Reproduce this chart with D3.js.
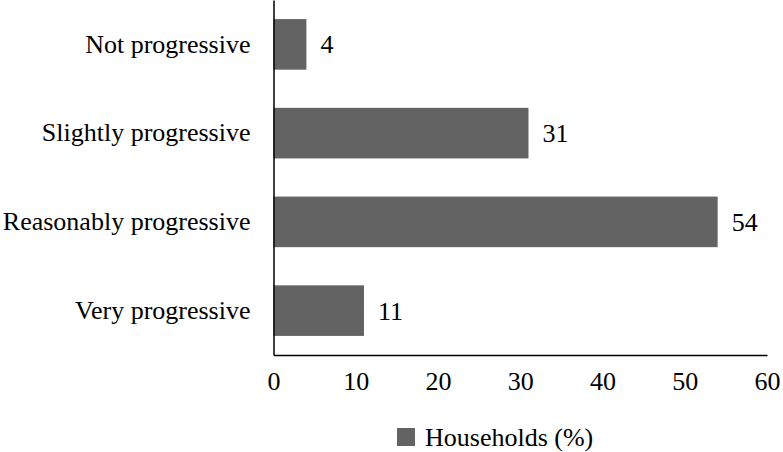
<!DOCTYPE html>
<html><head><meta charset="utf-8">
<script src="https://cdn.jsdelivr.net/npm/d3@7"></script>
<style>body{margin:0;background:#fff}svg{display:block}text{font-family:"Liberation Serif","Times New Roman",serif;fill:#000}</style>
</head><body>
<script>
const categories = ["Not progressive","Slightly progressive","Reasonably progressive","Very progressive"];
const values = [4,31,54,11];
const xTicks = [0,10,20,30,40,50,60];
const seriesName = "Households (%)";

const W=783,H=452, fs=26;
const svg=d3.select("body").append("svg").attr("width",W).attr("height",H);
const x=d3.scaleLinear().domain([0,60]).range([273.5,767]);
const y=d3.scaleBand().domain(categories).range([0,355]).paddingInner(0.43).paddingOuter(0.215);
const col="#636363";

svg.selectAll("rect.bar").data(values).join("rect").attr("class","bar")
  .attr("x",x(0)).attr("y",(d,i)=>y(categories[i])).attr("width",d=>x(d)-x(0)).attr("height",y.bandwidth()).attr("fill",col);

svg.selectAll("text.val").data(values).join("text").attr("class","val")
  .attr("x",d=>x(d)+14).attr("y",(d,i)=>y(categories[i])+y.bandwidth()/2).attr("dy","0.35em")
  .attr("font-size",fs).text(d=>d);

const ya=svg.append("g").attr("transform",`translate(${x(0)},0)`)
  .call(d3.axisLeft(y).tickSize(0).tickPadding(23));
ya.select(".domain").attr("stroke","#000").attr("stroke-width",1.5);
ya.selectAll("text").attr("font-size",fs).attr("font-family",null);

const xa=svg.append("g").attr("transform",`translate(0,355)`)
  .call(d3.axisBottom(x).tickValues(xTicks).tickSize(0).tickPadding(17).tickSizeOuter(0));
xa.select(".domain").attr("stroke","#000").attr("stroke-width",1.5);
xa.selectAll("text").attr("font-size",fs).attr("font-family",null);

const lg=svg.append("g");
lg.append("rect").attr("x",397).attr("y",428).attr("width",18).attr("height",18).attr("fill",col);
lg.append("text").attr("x",425).attr("y",437).attr("dy","0.35em").attr("font-size",fs).text(seriesName);
</script>
</body></html>
